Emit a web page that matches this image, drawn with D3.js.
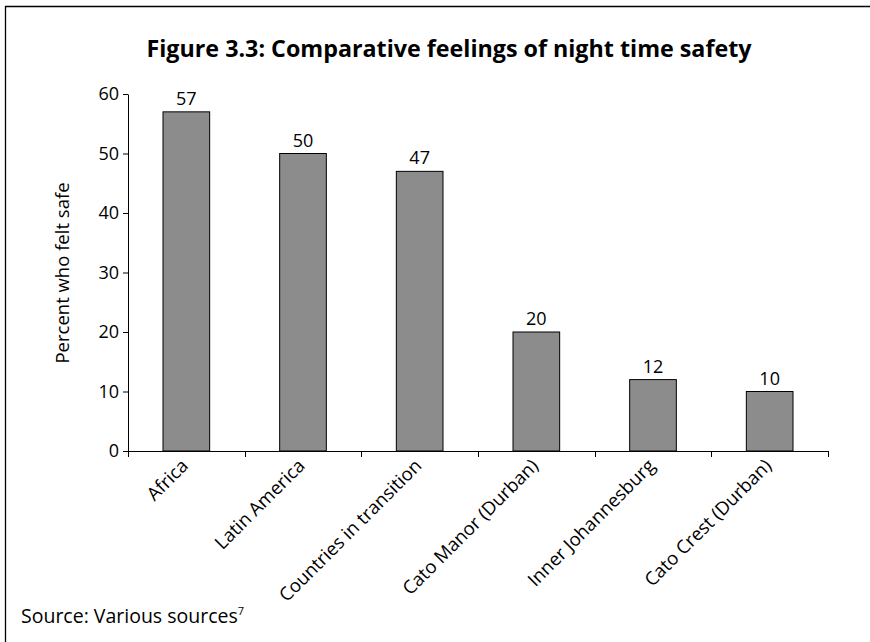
<!DOCTYPE html>
<html><head><meta charset="utf-8">
<script src="https://cdn.jsdelivr.net/npm/d3@7"></script>
<style>body{margin:0;background:#fff;} svg{display:block;}</style>
</head><body>
<svg id="c" width="870" height="642"></svg>
<script>
const categories = ["Africa","Latin America","Countries in transition","Cato Manor (Durban)","Inner Johannesburg","Cato Crest (Durban)"];
const values = [57,50,47,20,12,10];
const yTicks = [0,10,20,30,40,50,60];

const svg = d3.select("#c");
const font = "'Open Sans', Lato, sans-serif";
// frame lines
svg.append("line").attr("x1",5.5).attr("x2",5.5).attr("y1",6).attr("y2",642).attr("stroke","#000").attr("stroke-width",1.3);
svg.append("line").attr("x1",5).attr("x2",870).attr("y1",6.5).attr("y2",6.5).attr("stroke","#000").attr("stroke-width",1.5);

const x0 = 128, x1 = 828, yTop = 94, yBot = 451;
const x = d3.scaleBand().domain(categories).range([x0,x1]).paddingInner(0.6).paddingOuter(0.3);
const y = d3.scaleLinear().domain([0,60]).range([yBot,yTop]);

svg.append("text").attr("x",449).attr("y",57).attr("text-anchor","middle")
  .attr("font-family",font).attr("font-weight","bold").attr("font-size",24)
  .attr("textLength",605).attr("lengthAdjust","spacingAndGlyphs")
  .text("Figure 3.3: Comparative feelings of night time safety");

// bars
svg.selectAll("rect.bar").data(values).enter().append("rect")
  .attr("x",(d,i)=>x(categories[i])).attr("width",x.bandwidth())
  .attr("y",d=>y(d)).attr("height",d=>y(0)-y(d))
  .attr("fill","#8c8c8c").attr("stroke","#000").attr("stroke-width",1);

svg.selectAll("text.val").data(values).enter().append("text")
  .attr("x",(d,i)=>x(categories[i])+x.bandwidth()/2).attr("y",d=>y(d)-7)
  .attr("text-anchor","middle").attr("font-family",font).attr("font-size",18).text(d=>d);

// y axis
const ya = svg.append("g").attr("transform",`translate(${x0},0)`)
  .call(d3.axisLeft(y).tickValues(yTicks).tickSize(5).tickSizeOuter(0).tickPadding(4));
ya.select(".domain").attr("stroke","#000");
ya.selectAll("text").attr("font-family",font).attr("font-size",18).attr("fill","#000");

// x axis with ticks at band boundaries
const bounds = d3.range(categories.length+1).map(i=>x0+i*(x1-x0)/categories.length);
const xa = svg.append("g");
xa.append("line").attr("x1",x0).attr("x2",x1).attr("y1",yBot+0.5).attr("y2",yBot+0.5).attr("stroke","#000");
xa.selectAll("line.t").data(bounds).enter().append("line")
  .attr("x1",d=>Math.round(d)+0.5).attr("x2",d=>Math.round(d)+0.5).attr("y1",yBot).attr("y2",yBot+6).attr("stroke","#000");
xa.selectAll("text").data(categories).enter().append("text")
  .attr("transform",d=>`translate(${x(d)+x.bandwidth()/2+3},${yBot+16}) rotate(-45)`)
  .attr("text-anchor","end").attr("font-family",font).attr("font-size",18.5).text(d=>d);

svg.append("text").attr("transform",`translate(69,273) rotate(-90)`).attr("text-anchor","middle")
  .attr("font-family",font).attr("font-size",18.5).text("Percent who felt safe");

const src = svg.append("text").attr("x",21).attr("y",623).attr("font-family",font).attr("font-size",19.5).text("Source: Various sources");
src.append("tspan").attr("font-size",11).attr("dy",-8).text("7");
</script>
</body></html>
